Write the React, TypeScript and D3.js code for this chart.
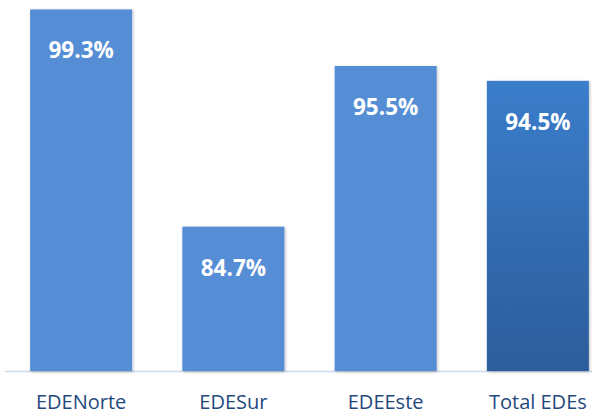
import React, { useRef, useEffect } from "react";
import * as d3 from "d3";

const categories = ["EDENorte", "EDESur", "EDEEste", "Total EDEs"];
const values = [99.3, 84.7, 95.5, 94.5];

export default function App() {
  const svgRef = useRef<SVGSVGElement>(null);

  useEffect(() => {
    const width = 592;
    const height = 414;
    const baseline = 371;

    const svg = d3.select(svgRef.current)
      .attr("width", width)
      .attr("height", height);
    svg.selectAll("*").remove();

    const defs = svg.append("defs");
    const grad = defs.append("linearGradient")
      .attr("id", "totalGrad")
      .attr("x1", 0).attr("y1", 0).attr("x2", 0).attr("y2", 1);
    grad.append("stop").attr("offset", "0%").attr("stop-color", "#3b7dcb");
    grad.append("stop").attr("offset", "100%").attr("stop-color", "#2c5d9b");

    const shadow = defs.append("filter").attr("id", "shadow")
      .attr("x", "-10%").attr("y", "-10%").attr("width", "120%").attr("height", "120%");
    shadow.append("feDropShadow")
      .attr("dx", 1).attr("dy", 1).attr("stdDeviation", 1.5)
      .attr("flood-color", "#000").attr("flood-opacity", 0.25);

    const x = d3.scaleBand()
      .domain(categories)
      .range([5, 614])
      .paddingInner(0.33)
      .paddingOuter(0.165);

    const y = d3.scaleLinear()
      .domain([75, 100])
      .range([baseline, -1]);

    // baseline
    svg.append("line")
      .attr("x1", 5).attr("x2", width)
      .attr("y1", baseline + 0.5).attr("y2", baseline + 0.5)
      .attr("stroke", "#c9d9ee").attr("stroke-width", 1.5);

    const data = categories.map((c, i) => ({ c, v: values[i] }));

    svg.append("g")
      .selectAll("rect")
      .data(data)
      .enter()
      .append("rect")
      .attr("x", d => x(d.c)!)
      .attr("y", d => y(d.v))
      .attr("width", x.bandwidth())
      .attr("height", d => baseline - y(d.v))
      .attr("fill", (d, i) => i === 3 ? "url(#totalGrad)" : "#558ed5")
      .attr("filter", "url(#shadow)");

    svg.append("g")
      .selectAll("text")
      .data(data)
      .enter()
      .append("text")
      .attr("x", d => x(d.c)! + x.bandwidth() / 2)
      .attr("y", d => y(d.v) + 49)
      .attr("text-anchor", "middle")
      .attr("font-family", "Open Sans, sans-serif")
      .attr("font-weight", "bold")
      .attr("font-size", 22.5)
      .attr("fill", "#ffffff")
      .text(d => `${d.v.toFixed(1)}%`);

    svg.append("g")
      .selectAll("text")
      .data(categories)
      .enter()
      .append("text")
      .attr("x", d => x(d)! + x.bandwidth() / 2)
      .attr("y", 409)
      .attr("text-anchor", "middle")
      .attr("font-family", "Open Sans, sans-serif")
      .attr("font-size", 20)
      .attr("fill", "#1f497d")
      .text(d => d);
  }, []);

  return <svg ref={svgRef} style={{ position: "absolute", left: 0, top: 0 }}></svg>;
}
